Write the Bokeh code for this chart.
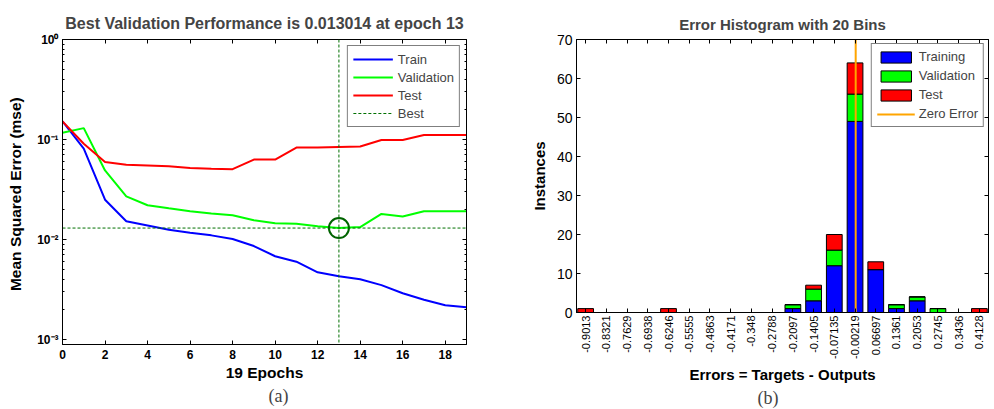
import math
from bokeh.plotting import figure
from bokeh.layouts import row
from bokeh.models import (Range1d, LinearAxis, LogAxis, FixedTicker, CustomJSTickFormatter,
                          Span, Legend, LegendItem, Title, ColumnDataSource)
from bokeh.embed import file_html
from bokeh.resources import INLINE

# ---------------- data: (a) performance ----------------
epochs = list(range(20))
train_mse = [0.152, 0.081, 0.025, 0.0152, 0.0138, 0.0125, 0.0117, 0.0110, 0.0101, 0.0086,
             0.0068, 0.0060, 0.0047, 0.0043, 0.0040, 0.0035, 0.0029, 0.0025, 0.0022, 0.0021]
val_mse = [0.117, 0.130, 0.049, 0.027, 0.022, 0.0205, 0.0192, 0.0182, 0.0175, 0.0156,
           0.0145, 0.0144, 0.0136, 0.013014, 0.0133, 0.018, 0.017, 0.0192, 0.0192, 0.0192]
test_mse = [0.152, 0.0906, 0.0596, 0.056, 0.055, 0.054, 0.052, 0.051, 0.0505, 0.063,
            0.063, 0.083, 0.083, 0.084, 0.085, 0.099, 0.099, 0.111, 0.111, 0.111]
best_epoch = 13
best_perf = 0.013014
y_decades = [-3, -2, -1, 0]
x_ticks_a = [0, 2, 4, 6, 8, 10, 12, 14, 16, 18]

# ---------------- data: (b) error histogram ----------------
bin_labels = ["-0.9013", "-0.8321", "-0.7629", "-0.6938", "-0.6246", "-0.5555", "-0.4863",
              "-0.4171", "-0.348", "-0.2788", "-0.2097", "-0.1405", "-0.07135", "-0.00219",
              "0.06697", "0.1361", "0.2053", "0.2745", "0.3436", "0.4128"]
train_counts = [0, 0, 0, 0, 0, 0, 0, 0, 0, 0, 1, 3, 12, 49, 11, 1, 3, 0, 0, 0]
val_counts = [0, 0, 0, 0, 0, 0, 0, 0, 0, 0, 1, 3, 4, 7, 0, 1, 1, 1, 0, 0]
test_counts = [1, 0, 0, 0, 1, 0, 0, 0, 0, 0, 0, 1, 4, 8, 2, 0, 0, 0, 0, 1]
y_ticks_b = [0, 10, 20, 30, 40, 50, 60, 70]

FONT = "Liberation Sans"
SERIF = "Liberation Serif"

# =============== figure (a) ===============
p1 = figure(frame_width=404, frame_height=305, y_axis_type="log",
            x_range=Range1d(0, 19), y_range=Range1d(10 ** -3.05, 1),
            output_backend="svg", toolbar_location=None,
            min_border_left=62, min_border_right=24, min_border_top=37, min_border_bottom=67)
p1.grid.visible = False
p1.outline_line_color = "black"
p1.title.text = "Best Validation Performance is 0.013014 at epoch 13"
p1.title.align = "center"
p1.title.text_font = FONT
p1.title.text_font_size = "16px"
p1.title.text_font_style = "bold"
p1.title.standoff = 16

sup_code = """
const e = Math.round(Math.log10(tick));
const sup = {'-':'\u207b','0':'\u2070','1':'\u00b9','2':'\u00b2','3':'\u00b3','4':'\u2074',
             '5':'\u2075','6':'\u2076','7':'\u2077','8':'\u2078','9':'\u2079'};
return '10' + String(e).split('').map(c => sup[c]).join('');
"""
major_log = [10.0 ** d for d in y_decades]
minor_log = [k * 10.0 ** d for d in y_decades[:-1] for k in range(2, 10)]

def style_axis(ax, size="12px", bold=True):
    ax.major_tick_in = 4
    ax.major_tick_out = 0
    ax.minor_tick_in = 2
    ax.minor_tick_out = 0
    ax.axis_line_color = "black"
    ax.major_tick_line_color = "black"
    ax.minor_tick_line_color = "black"
    ax.major_label_text_font = FONT
    ax.major_label_text_font_size = size
    ax.major_label_text_font_style = "bold" if bold else "normal"
    ax.major_label_text_color = "black"
    ax.axis_label_text_font = FONT
    ax.axis_label_text_font_style = "bold"
    ax.axis_label_text_color = "black"

def blank_axis(ax):
    style_axis(ax)
    ax.formatter = CustomJSTickFormatter(code="return '';")
    ax.major_label_text_font_size = "1px"
    ax.major_label_standoff = 0

xa = p1.xaxis[0]
xa.ticker = FixedTicker(ticks=x_ticks_a, minor_ticks=[])
style_axis(xa)
xa.axis_label = "19 Epochs"
xa.axis_label_text_font_size = "15.5px"
xa.major_label_standoff = 5
xa.axis_label_standoff = 2

ya = p1.yaxis[0]
ya.ticker = FixedTicker(ticks=major_log, minor_ticks=minor_log)
ya.formatter = CustomJSTickFormatter(code=sup_code)
style_axis(ya)
ya.axis_label = "Mean Squared Error  (mse)"
ya.axis_label_text_font_size = "15.5px"
ya.major_label_standoff = 4
ya.axis_label_standoff = 10

top_a = LinearAxis(ticker=FixedTicker(ticks=x_ticks_a, minor_ticks=[]))
blank_axis(top_a)
p1.add_layout(top_a, "above")
right_a = LogAxis(ticker=FixedTicker(ticks=major_log, minor_ticks=minor_log))
blank_axis(right_a)
p1.add_layout(right_a, "right")

r_train = p1.line(epochs, train_mse, line_color="#0000FF", line_width=2)
r_val = p1.line(epochs, val_mse, line_color="#00FF00", line_width=2)
r_test = p1.line(epochs, test_mse, line_color="#FF0000", line_width=2)
r_best = p1.line([epochs[0], epochs[-1]], [best_perf, best_perf], line_color="#007000",
                 line_width=1, line_dash="3 2")
p1.add_layout(Span(location=best_epoch, dimension="height", line_color="#007000",
                   line_width=1, line_dash="3 2"))
p1.scatter([best_epoch], [best_perf], marker="circle", size=20, fill_color=None,
           line_color="#006400", line_width=2)

leg1 = Legend(items=[LegendItem(label="Train", renderers=[r_train]),
                     LegendItem(label="Validation", renderers=[r_val]),
                     LegendItem(label="Test", renderers=[r_test]),
                     LegendItem(label="Best", renderers=[r_best])],
              location="top_right", margin=6, padding=5, spacing=2,
              glyph_width=40, glyph_height=16, label_height=16, label_standoff=5,
              label_text_font=FONT, label_text_font_size="13px",
              border_line_color="black", border_line_width=1)
p1.add_layout(leg1)

p1.add_layout(Title(text="(a)", align="left", offset=206, text_font=SERIF,
                    text_font_size="18px", text_font_style="normal", standoff=0), "below")

# =============== figure (b) ===============
idx = list(range(len(bin_labels)))
src = ColumnDataSource(dict(x=idx, train=train_counts, val=val_counts, test=test_counts))

p2 = figure(frame_width=412, frame_height=273,
            x_range=Range1d(-0.44, len(bin_labels) - 0.56), y_range=Range1d(0, y_ticks_b[-1]),
            output_backend="svg", toolbar_location=None,
            min_border_left=86, min_border_right=2, min_border_top=39, min_border_bottom=96)
p2.grid.visible = False
p2.outline_line_color = "black"
p2.title.text = "Error Histogram with 20 Bins"
p2.title.align = "center"
p2.title.text_font = FONT
p2.title.text_font_size = "15px"
p2.title.text_font_style = "bold"
p2.title.standoff = 14

bars = p2.vbar_stack(["train", "val", "test"], x="x", width=0.76, source=src,
                     fill_color=["#0000FF", "#00FF00", "#FF0000"], line_color="black",
                     line_width=1)

zero_pos = 13 + (0 - float(bin_labels[13])) / (float(bin_labels[14]) - float(bin_labels[13]))
r_zero = p2.line([zero_pos, zero_pos], [y_ticks_b[0], y_ticks_b[-1]], line_color="#FFA500",
                 line_width=2)

xb = p2.xaxis[0]
xb.ticker = FixedTicker(ticks=idx, minor_ticks=[])
xb.major_label_overrides = {i: s for i, s in zip(idx, bin_labels)}
xb.major_label_orientation = math.pi / 2
style_axis(xb, size="11px", bold=False)
xb.axis_label = "Errors = Targets - Outputs"
xb.axis_label_text_font_size = "15px"
xb.major_label_standoff = 3
xb.axis_label_standoff = 4

yb = p2.yaxis[0]
yb.ticker = FixedTicker(ticks=y_ticks_b, minor_ticks=[])
style_axis(yb, size="14px", bold=False)
yb.axis_label = "Instances"
yb.axis_label_text_font_size = "15px"
yb.major_label_standoff = 4
yb.axis_label_standoff = 6

top_b = LinearAxis(ticker=FixedTicker(ticks=idx, minor_ticks=[]))
blank_axis(top_b)
p2.add_layout(top_b, "above")
right_b = LinearAxis(ticker=FixedTicker(ticks=y_ticks_b, minor_ticks=[]))
blank_axis(right_b)
p2.add_layout(right_b, "right")

leg2 = Legend(items=[LegendItem(label="Training", renderers=[bars[0]]),
                     LegendItem(label="Validation", renderers=[bars[1]]),
                     LegendItem(label="Test", renderers=[bars[2]]),
                     LegendItem(label="Zero Error", renderers=[r_zero])],
              location="top_right", margin=4, padding=5, spacing=4,
              glyph_width=38, glyph_height=14, label_height=14, label_standoff=4,
              label_text_font=FONT, label_text_font_size="13px",
              border_line_color="black", border_line_width=1)
p2.add_layout(leg2)

p2.add_layout(Title(text="(b)", align="left", offset=181, text_font=SERIF,
                    text_font_size="18px", text_font_style="normal", standoff=0), "below")

layout = row(p1, p2)
open("out.html", "w").write(file_html(layout, INLINE))
